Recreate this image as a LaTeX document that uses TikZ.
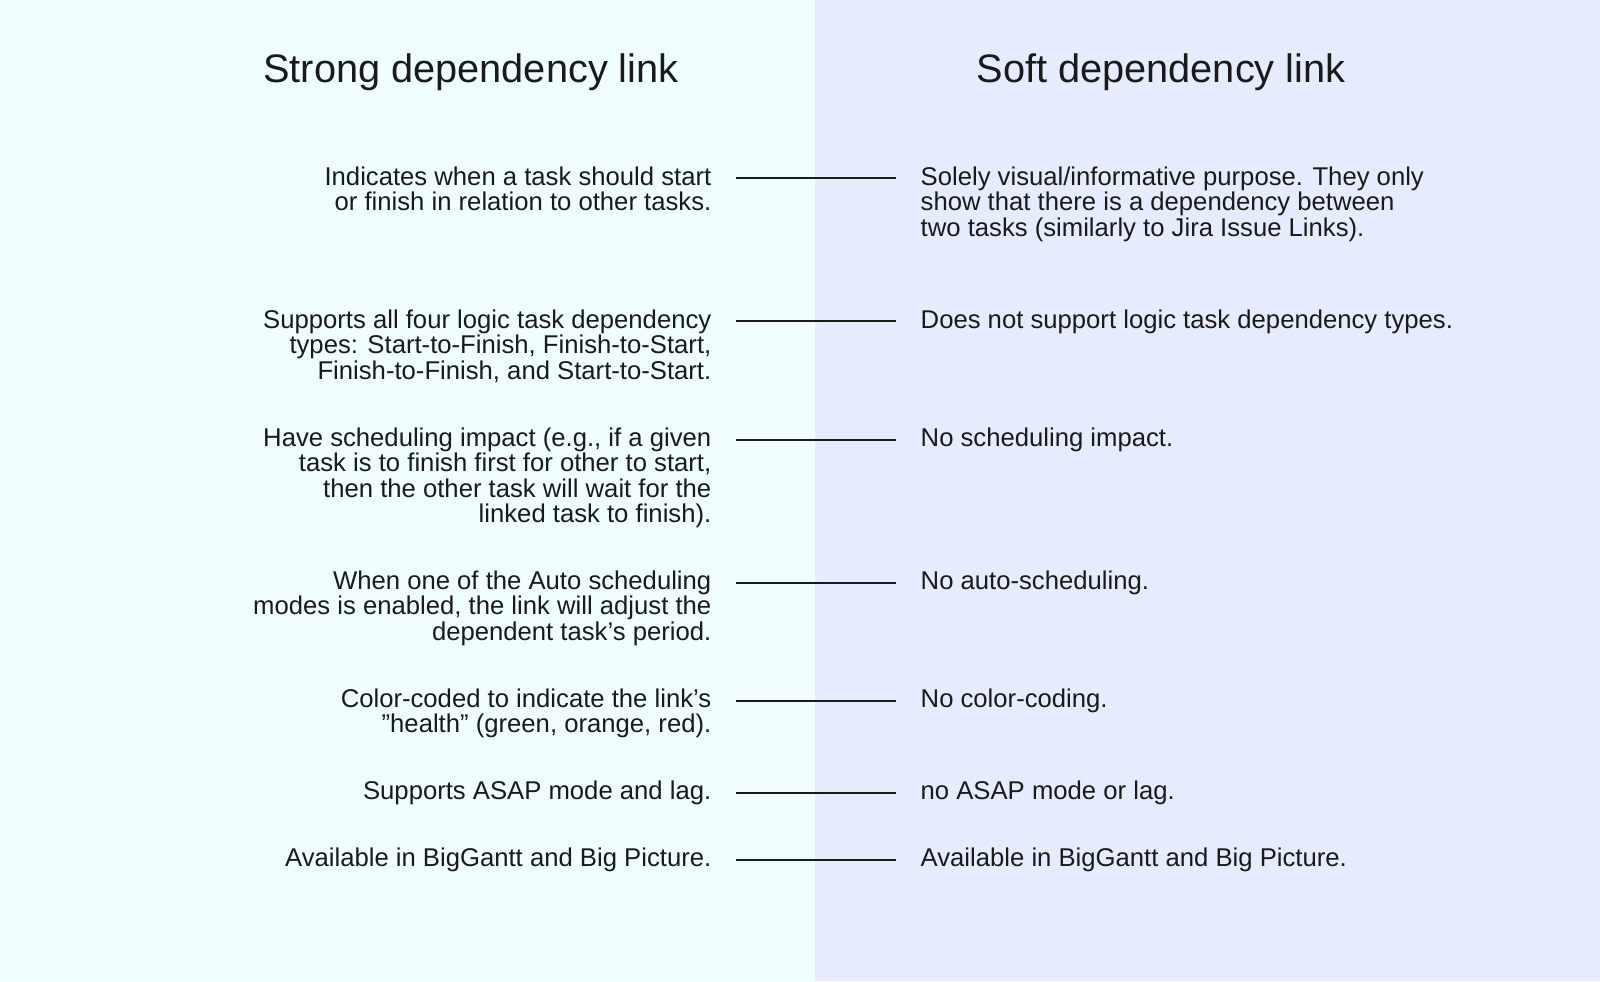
\documentclass[tikz,border=0pt]{standalone}
\usepackage{fontspec}
\setmainfont{Liberation Sans}
\usetikzlibrary{positioning}
\definecolor{leftbg}{HTML}{F0FEFF}
\definecolor{rightbg}{HTML}{E5ECFD}
\definecolor{ink}{HTML}{1A1A1A}
\tikzset{
lt/.style={anchor=north east,align=right,inner sep=0pt,text=ink,font=\fontsize{7.3}{7.25}\selectfont},
rt/.style={anchor=north west,align=left,inner sep=0pt,text=ink,font=\fontsize{7.3}{7.25}\selectfont},
hd/.style={text=ink,font=\fontsize{11.3}{13}\selectfont},
lnk/.style={ink,line width=0.5pt}
}
\begin{document}
\begin{tikzpicture}[x=0.01cm,y=-0.01cm]
\fill[leftbg](0,0)rectangle(815,981);
\fill[rightbg](815,0)rectangle(1600,981);
\useasboundingbox(0,0)rectangle(1600,981);
\node[hd](H1)at(471,72){Strong dependency link};
\node[hd](H2)at(1161,72){Soft dependency link};
%%
\node[lt](L1)at(712,166){Indicates when a task should start\\or finish in relation to other tasks.};
\node[rt](R1)at(920,166){Solely visual/informative purpose. They only\\show that there is a dependency between\\two tasks (similarly to Jira Issue Links).};
\node[lt](L2)at(712,309){Supports all four logic task dependency\\types: Start-to-Finish, Finish-to-Start,\\Finish-to-Finish, and Start-to-Start.};
\node[rt](R2)at(920,309){Does not support logic task dependency types.};
\node[lt](L3)at(712,427){Have scheduling impact (e.g., if a given\\task is to finish first for other to start,\\then the other task will wait for the\\linked task to finish).};
\node[rt](R3)at(920,427){No scheduling impact.};
\node[lt](L4)at(712,570){When one of the Auto scheduling\\modes is enabled, the link will adjust the\\dependent task\symbol{39}s period.};
\node[rt](R4)at(920,570){No auto-scheduling.};
\node[lt](L5)at(712,688){Color-coded to indicate the link\symbol{39}s\\\symbol{34}health\symbol{34} (green, orange, red).};
\node[rt](R5)at(920,688){No color-coding.};
\node[lt](L6)at(712,780){Supports ASAP mode and lag.};
\node[rt](R6)at(920,780){no ASAP mode or lag.};
\node[lt](L7)at(712,847){Available in BigGantt and Big Picture.};
\node[rt](R7)at(920,847){Available in BigGantt and Big Picture.};
%%
\coordinate(A1)at(736,178);\coordinate(B1)at(896,178);
\coordinate(A2)at(736,321);\coordinate(B2)at(896,321);
\coordinate(A3)at(736,440);\coordinate(B3)at(896,440);
\coordinate(A4)at(736,583);\coordinate(B4)at(896,583);
\coordinate(A5)at(736,701);\coordinate(B5)at(896,701);
\coordinate(A6)at(736,793);\coordinate(B6)at(896,793);
\coordinate(A7)at(736,860);\coordinate(B7)at(896,860);
\draw[lnk](A1)--(B1);
\draw[lnk](A2)--(B2);
\draw[lnk](A3)--(B3);
\draw[lnk](A4)--(B4);
\draw[lnk](A5)--(B5);
\draw[lnk](A6)--(B6);
\draw[lnk](A7)--(B7);
\end{tikzpicture}
\end{document}
